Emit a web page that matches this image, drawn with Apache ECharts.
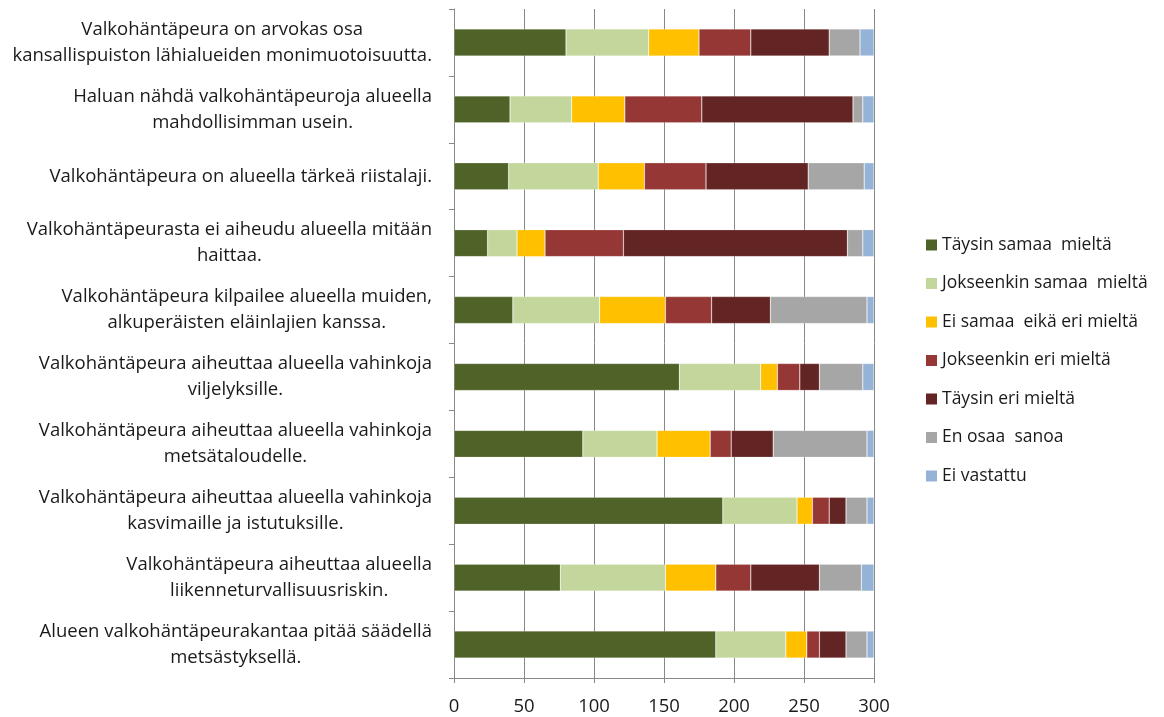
<!DOCTYPE html>
<html>
<head>
<meta charset="utf-8">
<script src="https://cdn.jsdelivr.net/npm/echarts@6/dist/echarts.min.js"></script>
<style>html,body{margin:0;padding:0;background:#fff;}#c{width:1164px;height:717px;}</style>
</head>
<body>
<div id="c"></div>
<script>
const categories = [
  "Valkohäntäpeura on arvokas osa\nkansallispuiston lähialueiden monimuotoisuutta.",
  "Haluan nähdä valkohäntäpeuroja alueella\nmahdollisimman usein.",
  "Valkohäntäpeura on alueella tärkeä riistalaji.",
  "Valkohäntäpeurasta ei aiheudu alueella mitään\nhaittaa.",
  "Valkohäntäpeura kilpailee alueella muiden,\nalkuperäisten eläinlajien kanssa.",
  "Valkohäntäpeura aiheuttaa alueella vahinkoja\nviljelyksille.",
  "Valkohäntäpeura aiheuttaa alueella vahinkoja\nmetsätaloudelle.",
  "Valkohäntäpeura aiheuttaa alueella vahinkoja\nkasvimaille ja istutuksille.",
  "Valkohäntäpeura aiheuttaa alueella\nliikenneturvallisuusriskin.",
  "Alueen valkohäntäpeurakantaa pitää säädellä\nmetsästyksellä."
];
const seriesNames = ["Täysin samaa  mieltä", "Jokseenkin samaa  mieltä", "Ei samaa  eikä eri mieltä", "Jokseenkin eri mieltä", "Täysin eri mieltä", "En osaa  sanoa", "Ei vastattu"];
const taysinSamaa     = [80, 40, 39, 24, 42, 161, 92, 192, 76, 187];
const jokseenkinSamaa = [59, 44, 64, 21, 62, 58, 53, 53, 75, 50];
const eiSamaaEikaEri  = [36, 38, 33, 20, 47, 12, 38, 11, 36, 15];
const jokseenkinEri   = [37, 55, 44, 56, 33, 16, 15, 12, 25, 9];
const taysinEri       = [56, 108, 73, 160, 42, 14, 30, 12, 49, 19];
const enOsaaSanoa     = [22, 7, 40, 11, 69, 31, 67, 15, 30, 15];
const eiVastattu      = [10, 8, 7, 8, 5, 8, 5, 5, 9, 5];
const xTicks = [0, 50, 100, 150, 200, 250, 300];

const colors = ["#4F6228", "#C3D69B", "#FFC000", "#953735", "#632523", "#A6A6A6", "#95B3D7"];
const values = [taysinSamaa, jokseenkinSamaa, eiSamaaEikaEri, jokseenkinEri, taysinEri, enOsaaSanoa, eiVastattu];
const FONT = "Open Sans";

const chart = echarts.init(document.getElementById('c'));
chart.setOption({
  animation: false,
  backgroundColor: '#fff',
  grid: { left: 454, right: 290, top: 9, bottom: 38, containLabel: false },
  legend: {
    orient: 'vertical', left: 926, top: 235, padding: 0,
    itemWidth: 11, itemHeight: 11, itemGap: 18.5,
    icon: 'rect',
    itemStyle: { borderWidth: 0 },
    textStyle: { fontFamily: FONT, fontSize: 17.5, color: '#1a1a1a', lineHeight: 20 },
    data: seriesNames
  },
  xAxis: {
    type: 'value', min: xTicks[0], max: xTicks[xTicks.length - 1], interval: xTicks[1] - xTicks[0],
    axisLine: { show: true, lineStyle: { color: '#888', width: 1 } },
    axisTick: { show: true, length: 5, lineStyle: { color: '#888' } },
    splitLine: { show: true, lineStyle: { color: '#888', width: 1 } },
    axisLabel: { fontFamily: FONT, fontSize: 18.5, color: '#1a1a1a', margin: 19, lineHeight: 20 }
  },
  yAxis: {
    type: 'category', inverse: true, data: categories,
    axisLine: { show: true, lineStyle: { color: '#888', width: 1 } },
    axisTick: { show: true, length: 5, lineStyle: { color: '#888' } },
    splitLine: { show: false },
    axisLabel: {
      fontFamily: FONT, fontSize: 18.5, color: '#1a1a1a', margin: 22, align: 'right',
      lineHeight: 26,
      formatter: function (v) { return v.split('\n').map(function (l) { return '{c|' + l + '}'; }).join('\n'); },
      rich: { c: { align: 'center', fontFamily: FONT, fontSize: 18.5, color: '#1a1a1a', lineHeight: 26 } }
    }
  },
  series: seriesNames.map(function (name, i) {
    return {
      name: name, type: 'bar', stack: 'total', barWidth: 27,
      itemStyle: { color: colors[i], borderColor: 'rgba(255,255,255,0.35)', borderWidth: 0.6 },
      data: values[i]
    };
  })
});
</script>
</body>
</html>
